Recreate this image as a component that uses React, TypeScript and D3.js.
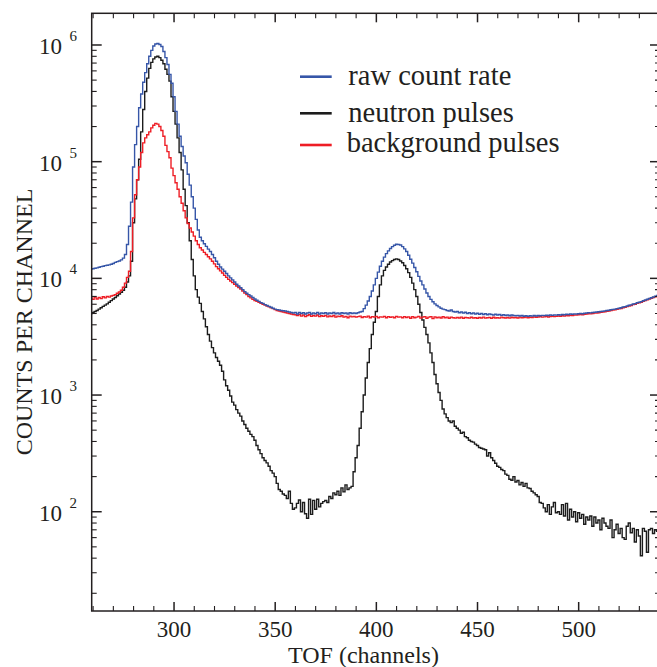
import React from "react";
import * as d3 from "d3";

// ---- data (counts per channel, channels 259..539) ----
const CHANNEL_START = 259;

const neutronPulses: number[] = [
  5000, 5100, 5200, 5300, 5450, 5600, 5750, 5900, 6050, 6250,
  6450, 6650, 6850, 7100, 7350, 7600, 7900, 8400, 9300, 10500,
  14000, 30000, 48000, 70000, 105000, 180000, 280000, 400000, 520000, 630000,
  710000, 760000, 790000, 800000, 780000, 740000, 690000, 620000, 560000, 490000,
  360000, 270000, 210000, 160000, 120000, 85000, 58000, 42000, 30000, 21000,
  14500, 10500, 8000, 6900, 6100, 5200, 4500, 3850, 3300, 2900,
  2550, 2300, 2100, 1950, 1800, 1600, 1350, 1200, 1100, 980,
  870, 820, 750, 700, 660, 600, 560, 520, 490, 460,
  440, 410, 370, 340, 315, 290, 275, 262, 245, 225,
  214, 200, 175, 155, 150, 142, 138, 130, 150, 118,
  105, 108, 118, 126, 100, 120, 96, 88, 128, 95,
  125, 105, 128, 110, 118, 122, 125, 120, 135, 130,
  145, 140, 150, 138, 160, 148, 170, 155, 160, 165,
  220, 290, 370, 520, 720, 1000, 1400, 1900, 2500, 3300,
  4200, 5200, 7000, 8800, 10500, 11700, 12500, 13200, 13800, 14200,
  14500, 14700, 14500, 14100, 13600, 12900, 12100, 11200, 10200, 9100,
  8000, 7000, 6000, 5100, 4400, 3800, 3300, 2800, 2300, 1900,
  1500, 1250, 1050, 900, 760, 690, 640, 600, 580, 600,
  540, 520, 500, 470, 480, 440, 430, 410, 400, 395,
  380, 370, 355, 350, 345, 340, 300, 320, 290, 275,
  260, 245, 240, 230, 225, 210, 205, 190, 186, 200,
  180, 185, 170, 178, 165, 175, 160, 158, 150, 145,
  140, 135, 120, 118, 108, 100, 115, 95, 110, 120,
  98, 100, 95, 115, 92, 118, 85, 105, 90, 100,
  82, 98, 88, 95, 78, 90, 85, 92, 75, 90,
  80, 85, 70, 88, 80, 75, 72, 85, 60, 70,
  78, 65, 72, 60, 58, 75, 80, 66, 72, 55,
  70, 62, 42, 72, 68, 45, 70, 72, 65, 70,
  68,
];

const backgroundPulses: number[] = [
  6800, 6600, 6900, 6650, 6850, 6700, 6950, 6800, 7000, 6900,
  7050, 7150, 7250, 7450, 7650, 7900, 8400, 9100, 10200, 11500,
  17000, 33000, 52000, 70000, 90000, 120000, 145000, 160000, 170000, 180000,
  195000, 205000, 213000, 210000, 200000, 185000, 165000, 138000, 122000, 108000,
  88000, 76000, 66000, 58000, 50000, 44000, 38000, 33000, 29500, 27000,
  25000, 23000, 21000, 19500, 18300, 17500, 16700, 16000, 15300, 14700,
  14000, 13300, 12600, 12100, 11600, 11100, 10600, 10200, 9800, 9500,
  9200, 8900, 8600, 8350, 8100, 7800, 7500, 7250, 7000, 6800,
  6600, 6450, 6350, 6250, 6100, 6000, 5900, 5800, 5700, 5600,
  5500, 5400, 5300, 5250, 5200, 5150, 5100, 5050, 5000, 4950,
  4900, 4870, 4800, 4900, 4750, 4850, 4700, 4800, 4880, 4720,
  4800, 4750, 4850, 4700, 4780, 4720, 4820, 4680, 4760, 4700,
  4800, 4650, 4750, 4700, 4780, 4650, 4720, 4600, 4750, 4680,
  4720, 4650, 4700, 4750, 4620, 4700, 4650, 4750, 4600, 4700,
  4650, 4720, 4600, 4680, 4650, 4720, 4600, 4700, 4640, 4680,
  4600, 4720, 4650, 4680, 4600, 4700, 4620, 4680, 4550, 4700,
  4600, 4650, 4720, 4560, 4650, 4700, 4550, 4650, 4700, 4520,
  4680, 4600, 4650, 4580, 4700, 4600, 4650, 4550, 4650, 4600,
  4560, 4620, 4580, 4650, 4550, 4620, 4600, 4560, 4640, 4580,
  4600, 4550, 4620, 4580, 4650, 4560, 4600, 4620, 4550, 4640,
  4580, 4600, 4560, 4650, 4600, 4580, 4620, 4560, 4640, 4600,
  4620, 4580, 4650, 4600, 4620, 4660, 4600, 4640, 4620, 4680,
  4640, 4660, 4700, 4650, 4680, 4720, 4660, 4700, 4740, 4700,
  4720, 4760, 4720, 4780, 4750, 4800, 4780, 4820, 4800, 4850,
  4850, 4880, 4900, 4870, 4920, 4950, 4980, 4960, 5000, 5050,
  5050, 5080, 5120, 5150, 5180, 5220, 5250, 5300, 5350, 5380,
  5420, 5480, 5520, 5600, 5650, 5720, 5800, 5850, 5950, 6000,
  6100, 6180, 6250, 6350, 6450, 6550, 6650, 6750, 6850, 6950,
  7050,
];

const rawCountRate: number[] = [
  12000, 12100, 12200, 12300, 12450, 12600, 12700, 12850, 12950, 13050,
  13200, 13400, 13700, 13900, 14100, 14400, 14900, 16000, 19500, 28000,
  45000, 90000, 140000, 200000, 290000, 380000, 480000, 580000, 690000, 800000,
  900000, 980000, 1020000, 1030000, 1010000, 970000, 880000, 780000, 680000, 560000,
  470000, 360000, 270000, 210000, 165000, 135000, 112000, 98000, 78000, 63000,
  50000, 40000, 32000, 26000, 22500, 21000, 19800, 18800, 17800, 17000,
  16000, 15000, 14000, 13200, 12500, 12000, 11500, 11000, 10500, 10100,
  9700, 9300, 8900, 8600, 8300, 8000, 7700, 7450, 7250, 7050,
  6850, 6650, 6500, 6350, 6200, 6100, 5950, 5850, 5750, 5650,
  5550, 5450, 5400, 5350, 5300, 5280, 5250, 5200, 5150, 5100,
  5050, 5100, 4950, 5100, 5000, 5080, 4950, 5050, 5100, 4950,
  5050, 4980, 5100, 4950, 5050, 5000, 5080, 4950, 5050, 5000,
  5100, 4980, 5050, 4950, 5080, 5000, 5050, 4950, 5080, 5000,
  5050, 5000, 5080, 5150, 5200, 5500, 5900, 6400, 7000, 7800,
  8800, 10000, 11300, 12700, 14000, 15200, 16300, 17200, 18000, 18700,
  19200, 19600, 19500, 19300, 18700, 17900, 17000, 15800, 14600, 13500,
  12400, 11400, 10400, 9500, 8800, 8100, 7500, 7000, 6600, 6300,
  6050, 5850, 5700, 5550, 5450, 5400, 5300, 5250, 5350, 5200,
  5150, 5200, 5080, 5150, 5050, 5120, 5000, 5080, 4980, 5050,
  4950, 5020, 4920, 5000, 4900, 4980, 4880, 4950, 4900, 4850,
  4920, 4850, 4900, 4820, 4880, 4800, 4860, 4780, 4850, 4800,
  4780, 4820, 4760, 4800, 4740, 4790, 4720, 4780, 4750, 4800,
  4760, 4800, 4780, 4820, 4790, 4830, 4800, 4850, 4820, 4860,
  4840, 4880, 4850, 4900, 4880, 4920, 4900, 4950, 4920, 4960,
  4950, 4980, 5000, 4970, 5020, 5050, 5080, 5060, 5100, 5130,
  5150, 5170, 5200, 5230, 5260, 5300, 5330, 5380, 5420, 5450,
  5500, 5550, 5600, 5680, 5730, 5800, 5880, 5930, 6030, 6080,
  6180, 6250, 6320, 6420, 6520, 6620, 6720, 6820, 6920, 7020,
  7120,
];

const xMajorTicks = [300, 350, 400, 450, 500];
const xLabel = "TOF (channels)";
const yLabel = "COUNTS PER CHANNEL";
const yDecades = [2, 3, 4, 5, 6];
const legendLabels = ["raw count rate", "neutron pulses", "background pulses"];

// ---- layout / style ----
const W = 657;
const H = 667;
const PL = 91.7;
const PR = 660;
const PT = 13.3;
const PB = 611;
const AXIS = "#231f20";
const BLUE = "#3656a8";
const BLACK = "#1c1c1c";
const RED = "#ee1d25";
const FONT = "'Liberation Serif', 'Times New Roman', serif";

export default function App() {
  const x = d3.scaleLinear().domain([259.3, 540.2]).range([PL, PR]);
  const y = d3.scaleLog().domain([14.1, 1.869e6]).range([PB, PT]);

  const line = d3
    .line<number>()
    .x((_, i) => x(CHANNEL_START + i))
    .y((d) => y(d))
    .curve(d3.curveStep);

  const xMinor = d3.range(260, 541, 10).filter((v) => !xMajorTicks.includes(v));
  const yMinor: number[] = [];
  for (let e = 1; e <= 6; e++) {
    for (let m = 2; m <= 9; m++) {
      const v = m * Math.pow(10, e);
      if (v > 14.1 && v < 1.869e6) yMinor.push(v);
    }
  }

  const series = [
    { data: neutronPulses, color: BLACK },
    { data: backgroundPulses, color: RED },
    { data: rawCountRate, color: BLUE },
  ];

  const legend = [
    { label: legendLabels[0], color: BLUE, ly: 76.7, ty: 85 },
    { label: legendLabels[1], color: BLACK, ly: 113.3, ty: 121.7 },
    { label: legendLabels[2], color: RED, ly: 145, ty: 151.7 },
  ];

  return (
    <svg
      width={W}
      height={H}
      style={{ position: "absolute", left: 0, top: 0, background: "#fff" }}
      fontFamily={FONT}
    >
      <defs>
        <clipPath id="plot">
          <rect x={PL} y={PT} width={PR - PL} height={PB - PT} />
        </clipPath>
      </defs>
      <rect x={0} y={0} width={W} height={H} fill="#fff" />

      <g clipPath="url(#plot)">
        {series.map((s, i) => (
          <path
            key={i}
            d={line(s.data) || ""}
            fill="none"
            stroke={s.color}
            strokeWidth={1.4}
            strokeLinejoin="miter"
          />
        ))}
      </g>

      {/* frame */}
      <rect
        x={PL}
        y={PT}
        width={PR - PL}
        height={PB - PT}
        fill="none"
        stroke={AXIS}
        strokeWidth={1.5}
      />

      {/* x ticks */}
      {xMajorTicks.map((t) => (
        <g key={"xm" + t}>
          <line x1={x(t)} x2={x(t)} y1={PB} y2={PB - 9} stroke={AXIS} strokeWidth={1.5} />
          <line x1={x(t)} x2={x(t)} y1={PT} y2={PT + 9} stroke={AXIS} strokeWidth={1.5} />
          <text x={x(t)} y={637} textAnchor="middle" fontSize={23} fill={AXIS}>
            {t}
          </text>
        </g>
      ))}
      {xMinor.map((t) => (
        <g key={"xn" + t}>
          <line x1={x(t)} x2={x(t)} y1={PB} y2={PB - 5} stroke={AXIS} strokeWidth={1.1} />
          <line x1={x(t)} x2={x(t)} y1={PT} y2={PT + 5} stroke={AXIS} strokeWidth={1.1} />
        </g>
      ))}

      {/* y ticks */}
      {yDecades.map((e) => {
        const v = Math.pow(10, e);
        const ty = y(v);
        return (
          <g key={"ym" + e}>
            <line x1={PL} x2={PL + 10} y1={ty} y2={ty} stroke={AXIS} strokeWidth={1.5} />
            <line x1={PR} x2={PR - 10} y1={ty} y2={ty} stroke={AXIS} strokeWidth={1.5} />
            <text x={62} y={ty + 9} textAnchor="end" fontSize={23} fill={AXIS}>
              10
            </text>
            <text x={69.5} y={ty - 4} fontSize={15} fill={AXIS}>
              {e}
            </text>
          </g>
        );
      })}
      {yMinor.map((v, i) => (
        <g key={"yn" + i}>
          <line x1={PL} x2={PL + 5} y1={y(v)} y2={y(v)} stroke={AXIS} strokeWidth={1.1} />
          <line x1={PR} x2={PR - 5} y1={y(v)} y2={y(v)} stroke={AXIS} strokeWidth={1.1} />
        </g>
      ))}

      {/* axis titles */}
      <text x={363.5} y={663} textAnchor="middle" fontSize={24} fill={AXIS}>
        {xLabel}
      </text>
      <text
        transform={`translate(31.5, 322) rotate(-90)`}
        textAnchor="middle"
        fontSize={24}
        fill={AXIS}
      >
        {yLabel}
      </text>

      {/* legend */}
      {legend.map((l) => (
        <g key={l.label}>
          <line x1={300} x2={331.7} y1={l.ly} y2={l.ly} stroke={l.color} strokeWidth={2.6} />
          <text x={l.label === legendLabels[2] ? 346.7 : 348.3} y={l.ty} fontSize={28.5} fill={AXIS}>
            {l.label}
          </text>
        </g>
      ))}
    </svg>
  );
}
